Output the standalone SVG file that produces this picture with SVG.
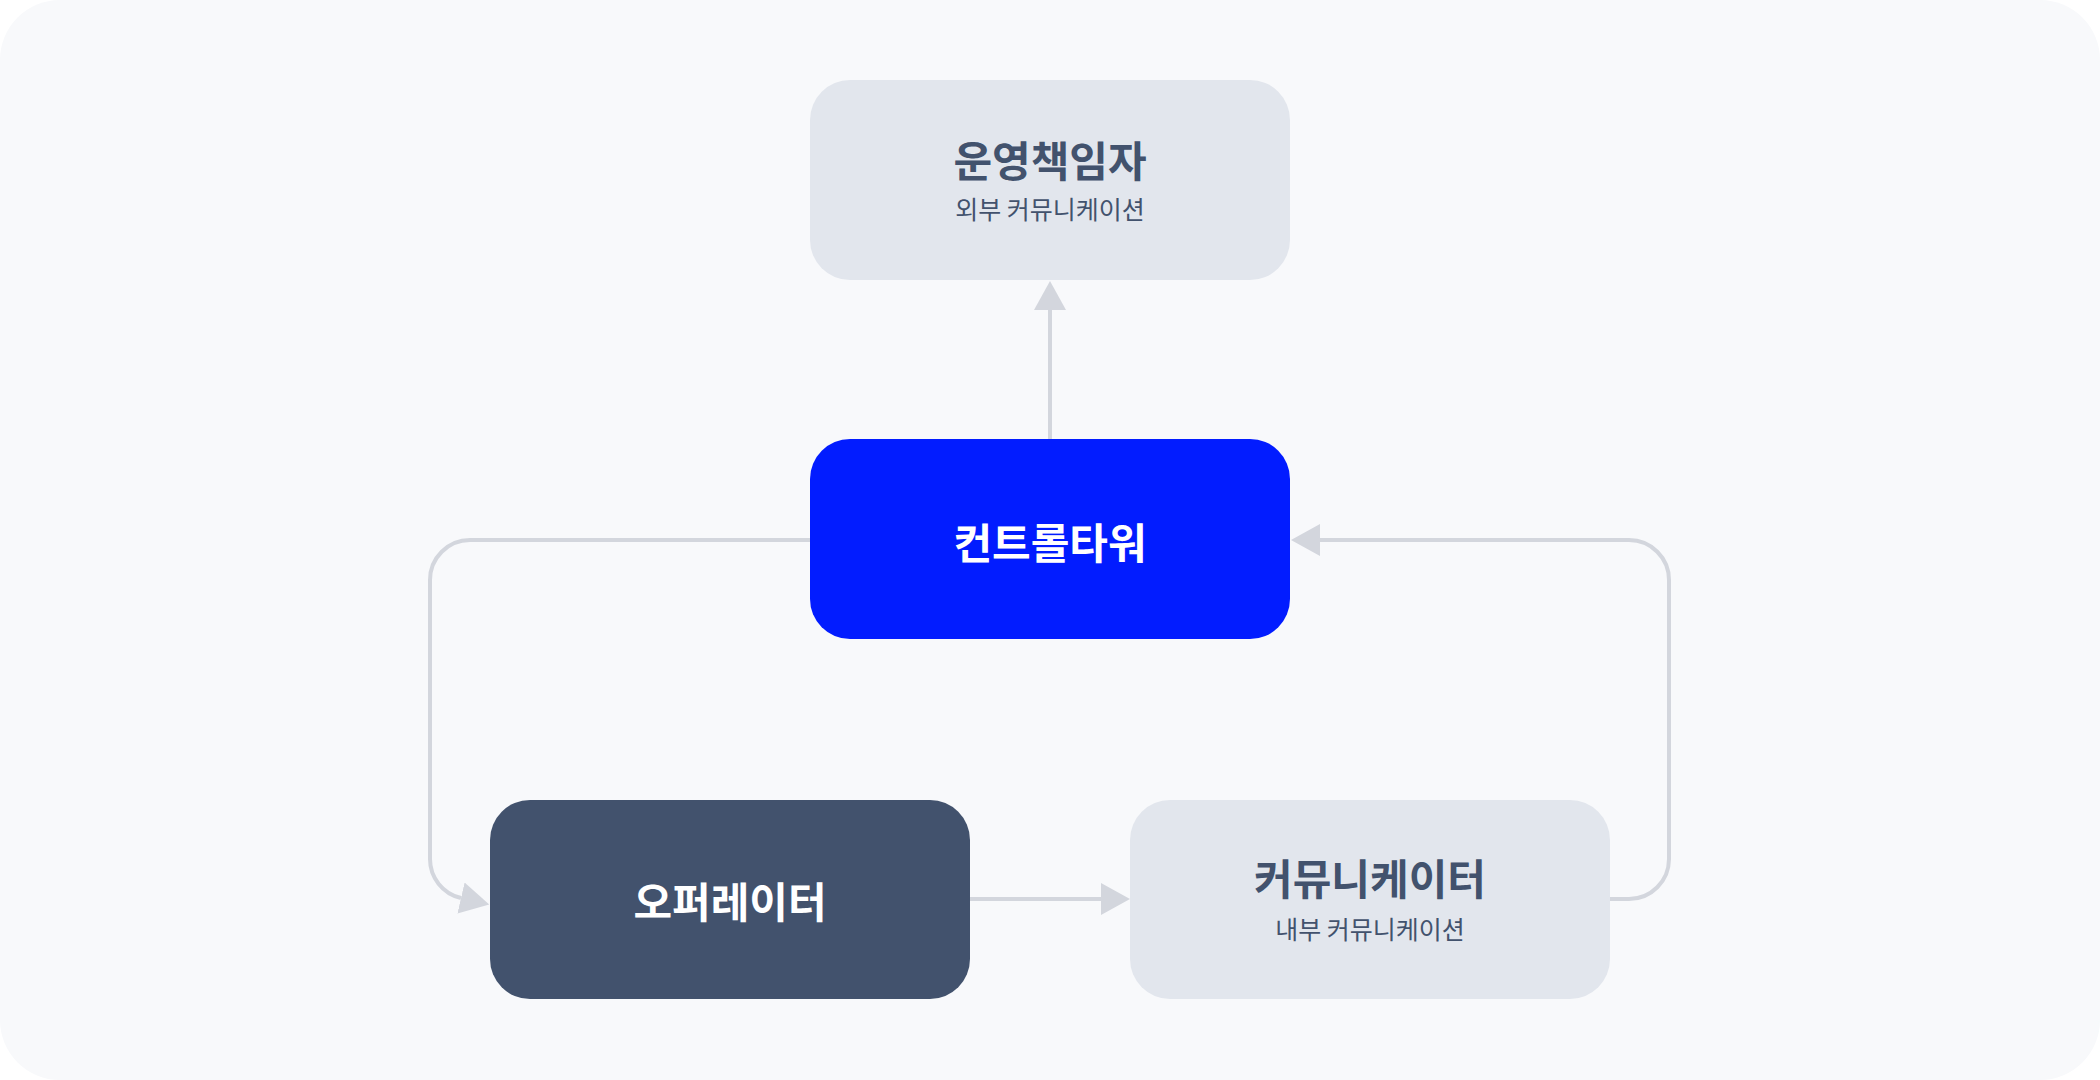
<svg xmlns="http://www.w3.org/2000/svg" width="2100" height="1080" viewBox="0 0 2100 1080">
<style>
.t{font-family:"Noto Sans CJK KR","Noto Sans",sans-serif;text-anchor:middle;dominant-baseline:central}
.ti{font-size:42px;font-weight:700}
.sub{font-size:25px;font-weight:400}
.c{fill:none;stroke:#d3d6dd;stroke-width:4}
</style>
<defs>
<marker id="a" markerUnits="userSpaceOnUse" markerWidth="30" markerHeight="34" refX="0" refY="16" orient="auto" viewBox="0 0 30 32">
<path d="M0,0 L29,16 L0,32 z" fill="#d3d6dd"/>
</marker>
</defs>
<rect x="0" y="0" width="2100" height="1080" rx="60" fill="#f8f9fb"/>
<g id="connectors">
<path class="c" d="M1050,439 V310" marker-end="url(#a)"/>
<path class="c" d="M810,540 H470 A40,40 0 0 0 430,580 V859 A40,40 0 0 0 461,898" marker-end="url(#a)"/>
<path class="c" d="M970,899 H1101" marker-end="url(#a)"/>
<path class="c" d="M1610,899 H1629 A40,40 0 0 0 1669,859 V580 A40,40 0 0 0 1629,540 H1320" marker-end="url(#a)"/>
</g>
<g id="top">
<rect x="810" y="80" width="480" height="200" rx="40" fill="#e2e6ed"/>
<text class="t ti" x="1050" y="158" fill="#42526d">운영책임자</text>
<text class="t sub" x="1050" y="208" fill="#42526d">외부 커뮤니케이션</text>
</g>
<g id="control">
<rect x="810" y="439" width="480" height="200" rx="40" fill="#021cff"/>
<text class="t ti" x="1050" y="540" fill="#ffffff">컨트롤타워</text>
</g>
<g id="operator">
<rect x="490" y="800" width="480" height="199" rx="40" fill="#42526d"/>
<text class="t ti" x="730" y="899" fill="#ffffff">오퍼레이터</text>
</g>
<g id="communicator">
<rect x="1130" y="800" width="480" height="199" rx="40" fill="#e2e6ed"/>
<text class="t ti" x="1370" y="876" fill="#42526d">커뮤니케이터</text>
<text class="t sub" x="1370" y="928" fill="#42526d">내부 커뮤니케이션</text>
</g>
</svg>
